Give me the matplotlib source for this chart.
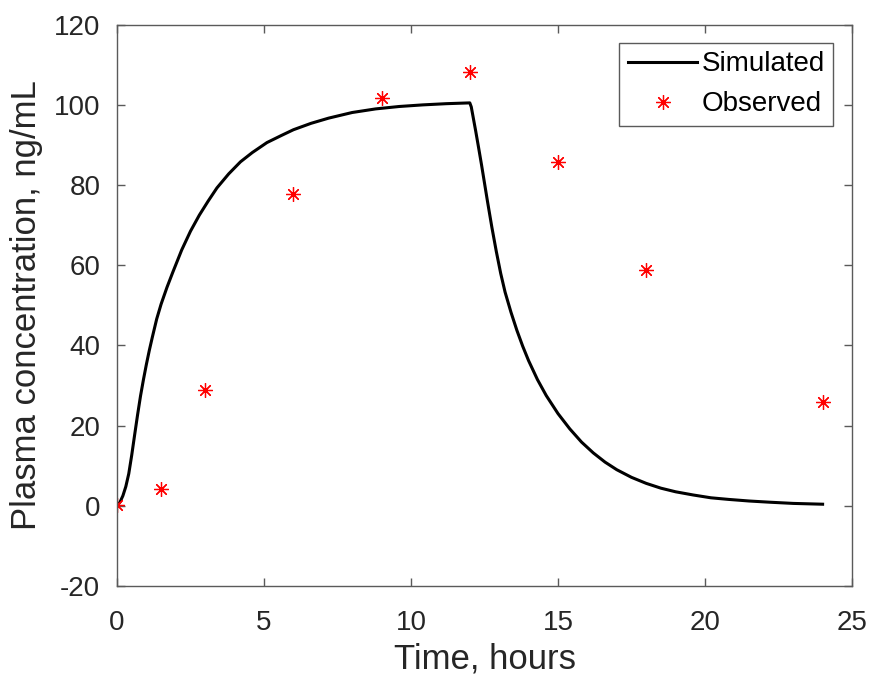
import matplotlib
matplotlib.use("Agg")
import matplotlib.pyplot as plt

plt.rcParams['font.family'] = ['Liberation Sans', 'DejaVu Sans']
plt.rcParams['axes.unicode_minus'] = False

# Simulated plasma concentration profile (12 h infusion, then elimination)
sim_time = [0, 0.1, 0.2, 0.3, 0.4, 0.5, 0.6, 0.7, 0.8, 0.9, 1.0, 1.1, 1.2,
            1.35, 1.5, 1.7, 1.9, 2.2, 2.5, 2.8, 3.1, 3.4, 3.8, 4.2, 4.6,
            5.1, 5.6, 6.0, 6.6, 7.2, 8.0, 8.8, 9.6, 10.4, 11.2, 12.0,
            12.05, 12.1, 12.2, 12.3, 12.4, 12.5, 12.6, 12.75, 12.9, 13.05,
            13.2, 13.4, 13.6, 13.8, 14.0, 14.3, 14.6, 15.0, 15.4, 15.8,
            16.2, 16.6, 17.0, 17.5, 18.0, 18.5, 19.0, 19.6, 20.2, 20.8,
            21.5, 22.2, 23.0, 24.0]
sim_conc = [0, 0.9, 2.5, 4.8, 8.0, 12.6, 17.7, 22.7, 27.4, 31.5, 35.3, 38.8, 42.0,
            46.6, 50.3, 54.5, 58.3, 63.8, 68.5, 72.5, 76.0, 79.3, 82.8, 85.8, 88.1,
            90.6, 92.4, 93.8, 95.4, 96.7, 98.1, 99.0, 99.6, 100.0, 100.3, 100.5,
            99.5, 97.5, 93.5, 89.3, 85.0, 80.5, 76.0, 69.5, 63.5, 58.0,
            53.3, 48.3, 43.8, 39.8, 36.2, 31.5, 27.5, 23.0, 19.2, 15.9,
            13.2, 10.9, 9.0, 7.1, 5.6, 4.4, 3.5, 2.7, 2.0, 1.6,
            1.2, 0.9, 0.6, 0.4]

# Observed samples
obs_time = [0, 1.5, 3, 6, 9, 12, 15, 18, 24]
obs_conc = [0.3, 4.3, 28.8, 77.8, 101.8, 108.1, 85.7, 58.8, 26.0]

x_ticks = [0, 5, 10, 15, 20, 25]
y_ticks = [-20, 0, 20, 40, 60, 80, 100, 120]

axis_color = '#262626'
spine_color = '#5a5a5a'

fig = plt.figure(figsize=(8.71, 6.77), dpi=100)
ax = fig.add_axes([117 / 871, 1 - 586 / 677, (852 - 117) / 871, (586 - 24.7) / 677])

ax.plot(sim_time, sim_conc, color='black', linewidth=2.2, label='Simulated',
        solid_joinstyle='round')
ax.plot(obs_time, obs_conc, linestyle='none', marker=(8, 2, 0), markersize=10.5,
        markeredgewidth=0.9, color='red', label='Observed')

ax.set_xlim(0, 25)
ax.set_ylim(-20, 120)
ax.set_xticks(x_ticks)
ax.set_yticks(y_ticks)

for side in ['left', 'right', 'top', 'bottom']:
    ax.spines[side].set_color(spine_color)
    ax.spines[side].set_linewidth(1.0)

ax.tick_params(axis='both', which='both', direction='in', top=True, right=True,
               length=6, width=1.0, color=spine_color, labelcolor=axis_color,
               labelsize=20)
ax.tick_params(axis='x', pad=17)
ax.tick_params(axis='y', pad=12)

ax.set_xlabel('Time, hours', fontsize=25, color=axis_color, labelpad=5)
ax.set_ylabel('Plasma concentration, ng/mL', fontsize=25, color=axis_color, labelpad=8)

leg = ax.legend(loc='upper right', bbox_to_anchor=(833 / 871, 1 - 43 / 677),
                bbox_transform=fig.transFigure, fontsize=20, frameon=True,
                fancybox=False, framealpha=1, edgecolor=spine_color,
                handlelength=2.5, handletextpad=0.15, borderpad=0.3,
                labelspacing=0.5, borderaxespad=0)
leg.get_frame().set_linewidth(1.0)
for t in leg.get_texts():
    t.set_color('black')

fig.savefig('out.png', dpi=100)
